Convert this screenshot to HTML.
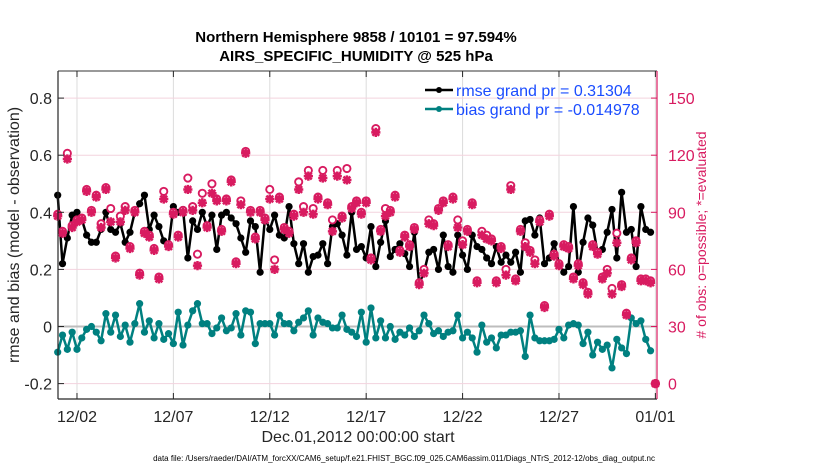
<!DOCTYPE html>
<html><head><meta charset="utf-8"><style>
html,body{margin:0;padding:0;background:#fff;}
svg{display:block;font-family:"Liberation Sans",Arial,sans-serif;}
</style></head><body>
<svg id="chart" width="830" height="470" viewBox="0 0 830 470">
<g id="grid"></g>
<g id="series"></g>
<g id="axes"></g>
<text x="356" y="42" text-anchor="middle" font-size="15" font-weight="bold">Northern Hemisphere 9858 / 10101 = 97.594%</text>
<text x="356" y="61" text-anchor="middle" font-size="15" font-weight="bold">AIRS_SPECIFIC_HUMIDITY @ 525 hPa</text>
<text transform="translate(19,235) rotate(-90)" text-anchor="middle" font-size="16" fill="#262626">rmse and bias (model - observation)</text>
<text transform="translate(706,235) rotate(-90)" text-anchor="middle" font-size="14" fill="#d81b60"># of obs: o=possible; *=evaluated</text>
<text x="358" y="442" text-anchor="middle" font-size="16" fill="#262626">Dec.01,2012 00:00:00 start</text>
<text x="404" y="461" text-anchor="middle" font-size="8" fill="#000">data file: /Users/raeder/DAI/ATM_forcXX/CAM6_setup/f.e21.FHIST_BGC.f09_025.CAM6assim.011/Diags_NTrS_2012-12/obs_diag_output.nc</text>
<g>
<line x1="425" y1="90" x2="453" y2="90" stroke="#000" stroke-width="2.5"/>
<circle cx="439" cy="90" r="3" fill="#000"/>
<text x="456" y="96" font-size="16" fill="#1a4cff">rmse grand pr = 0.31304</text>
<line x1="425" y1="109" x2="453" y2="109" stroke="#008080" stroke-width="2.5"/>
<circle cx="439" cy="109" r="3" fill="#008080"/>
<text x="456" y="115" font-size="16" fill="#1a4cff">bias grand pr = -0.014978</text>
</g>
</svg>
<script>
const rmseValues=[0.46,0.22,0.31,0.39,0.40,0.375,0.32,0.295,0.295,0.34,0.40,0.34,0.33,0.36,0.295,0.33,0.40,0.43,0.46,0.34,0.39,0.35,0.30,0.285,0.42,0.40,0.41,0.24,0.37,0.34,0.40,0.35,0.39,0.27,0.39,0.40,0.38,0.36,0.31,0.26,
0.37,0.35,0.19,0.38,0.34,0.39,0.32,0.31,0.42,0.29,0.22,0.29,0.19,0.245,0.25,0.29,0.22,0.35,0.36,0.32,0.25,0.40,0.27,0.28,0.24,0.35,0.21,0.295,0.37,0.245,0.27,0.29,0.255,0.21,0.33,0.15,0.19,0.26,0.27,0.20,
0.32,0.21,0.19,0.32,0.25,0.20,0.32,0.28,0.27,0.24,0.22,0.28,0.225,0.25,0.225,0.26,0.19,0.37,0.375,0.32,0.38,0.22,0.24,0.29,0.22,0.19,0.21,0.42,0.19,0.295,0.38,0.355,0.26,0.27,0.33,0.41,0.24,0.47,0.33,0.34,0.21,0.42,0.34,0.33];
const biasValues=[-0.09,-0.03,-0.08,-0.02,-0.08,-0.04,-0.01,0,-0.02,-0.05,0.045,-0.02,0.04,-0.035,0.005,-0.055,0.01,0.08,-0.02,0.02,-0.04,0.01,-0.045,-0.025,-0.06,0.05,-0.065,0.005,0.055,0.08,0.01,0.01,-0.025,-0.005,0.03,-0.015,-0.005,0.045,-0.03,0.055,
0.05,-0.06,0.01,0.01,0.01,-0.03,0.04,0.01,0.01,-0.015,0.015,0.03,0.055,-0.03,0.03,0.015,0.01,-0.005,-0.005,0.04,-0.01,-0.02,-0.035,0.05,-0.055,0.065,-0.04,0.02,-0.04,0,-0.045,-0.02,-0.03,-0.005,-0.035,-0.015,0.04,0.01,-0.025,-0.015,
-0.035,-0.02,-0.015,0.04,-0.04,-0.02,-0.04,-0.09,0.005,-0.055,-0.04,-0.075,-0.03,-0.03,-0.02,-0.02,-0.015,-0.105,0.04,-0.04,-0.05,-0.05,-0.05,-0.045,-0.01,-0.04,0.005,0.01,0.005,-0.06,-0.02,-0.10,-0.055,-0.08,-0.065,-0.145,-0.045,-0.075,-0.095,0.03,0.01,0.02,-0.045,-0.085];
const obsEvaluated=[88,79,118,82,85,86,101,90,98,82,102,85,66,85,91,71,90,57,79,77,70,55,97,72,89,77,90,102,91,62,95,82,100,96,80,96,106,63,94,121,
90,76,90,86,97,60,97,81,79,88,102,90,109,89,97,108,94,80,109,87,107,92,95,89,95,65,132,80,88,90,98,69,77,72,81,52,58,84,83,91,
95,72,97,82,73,80,94,53,78,76,75,53,71,57,102,54,80,72,69,63,85,40,88,67,62,72,71,55,62,52,47,72,68,55,58,47,74,51,36,65,74,54,54,53,0];
const obsPossible=[89,80,121,83,86,87,102,91,99,84,103,92,67,88,93,72,91,58,80,78,71,56,101,73,90,78,91,108,93,68,100,83,105,97,81,97,107,64,96,122,
91,77,91,87,102,65,98,82,80,89,106,93,112,92,98,112,95,86,112,88,113,93,96,90,96,66,134,81,92,91,99,70,78,73,82,53,60,86,84,92,
96,73,98,86,75,81,95,54,80,78,76,54,72,60,104,55,81,74,70,65,86,41,89,68,63,73,72,56,63,53,48,73,69,56,60,50,79,52,37,66,75,55,55,54,0];
const xTickDays=[1,6,11,16,21,26,31];
const xTickLabels=["12/02","12/07","12/12","12/17","12/22","12/27","01/01"];
const yLeftTicks=[-0.2,0,0.2,0.4,0.6,0.8];
const yLeftLabels=["-0.2","0","0.2","0.4","0.6","0.8"];
const yRightTicks=[0,30,60,90,120,150];
const stepDays=0.25;

const NS="http://www.w3.org/2000/svg";
const L=58,R=657,T=71,B=399;
const xS=d=>57.7+d*19.28;
const yS=v=>326.5-v*285.5;
const yC=c=>yS((c-30)/150);
const CR="#d81b60";
function mk(tag,attrs,parent){const e=document.createElementNS(NS,tag);for(const k in attrs)e.setAttribute(k,attrs[k]);parent.appendChild(e);return e;}
const grid=document.getElementById('grid'),ser=document.getElementById('series'),ax=document.getElementById('axes');
mk('rect',{x:L,y:T,width:R-L,height:B-T,fill:'#fff'},grid);
xTickDays.forEach(d=>{const g=mk('line',{x1:xS(d),x2:xS(d),y1:T,y2:B,stroke:'#dcdcdc','stroke-width':1},grid);

});
yRightTicks.forEach(c=>{const g=mk('line',{x1:L,x2:R,y1:yC(c),y2:yC(c),stroke:'#f3d3de','stroke-width':1},grid);

});
const z=mk('line',{x1:L,x2:R,y1:yS(0),y2:yS(0),stroke:'#bdbdbd','stroke-width':2},grid);



function drawSeries(vals,color,name){
  const g=mk('g',{},ser);
  
  
  const pts=vals.map((v,i)=>xS(i*stepDays).toFixed(1)+','+yS(v).toFixed(1)).join(' ');
  mk('polyline',{points:pts,fill:'none',stroke:color,'stroke-width':2.5,'stroke-linejoin':'round'},g);
  vals.forEach((v,i)=>{const c=mk('circle',{cx:xS(i*stepDays),cy:yS(v),r:3.6,fill:color},g);
    
    });
}
drawSeries(biasValues,'#008080','bias-series');
drawSeries(rmseValues,'#000000','rmse-series');

const obsG=mk('g',{},ser);


obsPossible.forEach((c,i)=>{const m=mk('circle',{cx:xS(i*stepDays),cy:yC(c),r:3.6,fill:'#fff',stroke:CR,'stroke-width':1.9},obsG);
  
  });
obsEvaluated.forEach((c,i)=>{const x=xS(i*stepDays),y=yC(c),h=4.6,d=3.4;
  const p=mk('path',{d:`M${x-h},${y}H${x+h}M${x},${y-h}V${y+h}M${x-d},${y-d}L${x+d},${y+d}M${x-d},${y+d}L${x+d},${y-d}`,stroke:CR,'stroke-width':2.5,fill:'none'},obsG);
  
  });

mk('line',{x1:L,x2:R,y1:T,y2:T,stroke:'#333','stroke-width':1},ax);
mk('line',{x1:L,x2:R,y1:B,y2:B,stroke:'#262626','stroke-width':1.2},ax);
mk('line',{x1:L,x2:L,y1:T,y2:B,stroke:'#262626','stroke-width':1.2},ax);
mk('line',{x1:R,x2:R,y1:T,y2:B,stroke:CR,'stroke-width':1.2},ax);
xTickDays.forEach((d,i)=>{
  mk('line',{x1:xS(d),x2:xS(d),y1:B,y2:B-6,stroke:'#262626'},ax);
  mk('line',{x1:xS(d),x2:xS(d),y1:T,y2:T+6,stroke:'#262626'},ax);
  const t=mk('text',{x:xS(d),y:422,'text-anchor':'middle','font-size':16,fill:'#262626'},ax);
  t.textContent=xTickLabels[i];
  
  
});
yLeftTicks.forEach((v,i)=>{
  mk('line',{x1:L,x2:L+6,y1:yS(v),y2:yS(v),stroke:'#262626'},ax);
  const t=mk('text',{x:52,y:yS(v)+6,'text-anchor':'end','font-size':16,fill:'#262626'},ax);
  t.textContent=yLeftLabels[i];
  
  
});
yRightTicks.forEach(c=>{
  mk('line',{x1:R,x2:R-6,y1:yC(c),y2:yC(c),stroke:CR},ax);
  const t=mk('text',{x:668,y:yC(c)+6,'font-size':16,fill:CR},ax);
  t.textContent=String(c);
  
  
});
</script>
</body></html>
